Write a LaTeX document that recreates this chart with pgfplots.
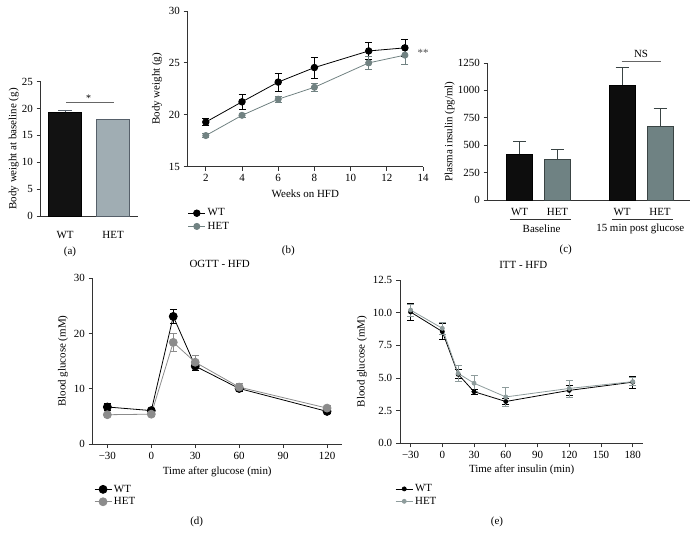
\documentclass[border=0pt]{standalone}
\usepackage{fontspec}
\setmainfont{Liberation Serif}
\usepackage{pgfplots}
\pgfplotsset{compat=1.18}
\definecolor{hetA}{HTML}{A0ADB3}
\definecolor{hetAd}{HTML}{56606A}
\definecolor{hetC}{HTML}{6F8283}
\definecolor{hetCd}{HTML}{3A4444}
\definecolor{hetB}{HTML}{718282}
\definecolor{hetD}{HTML}{8C8C8C}
\definecolor{hetE}{HTML}{8E9C9C}
\definecolor{axc}{HTML}{333333}
\newcommand{\fs}{\fontsize{11}{13}\selectfont}
\pgfplotsset{
  myaxis/.style={
    scale only axis,
    anchor=south west,
    axis x line*=bottom, axis y line*=left,
    axis line style={-, line width=0.8pt, color=axc},
    tick align=outside,
    major tick length=4bp,
    tick style={line width=0.8pt, color=axc},
    tick label style={font=\fs},
    label style={font=\fs},
    title style={font=\fs},
    /pgf/number format/assume math mode=true,
    /pgf/number format/1000 sep={},
    clip=false,
    legend cell align=left,
  },
  ebar/.style={error bars/.cd, y dir=both, y explicit,
    error bar style={line width=0.8pt},
    error mark options={rotate=90, mark size=3.5bp, line width=0.8pt}},
}
\begin{document}
\begin{tikzpicture}
\path[use as bounding box] (0,0) rectangle (700bp,545bp);
\fs
% (a)
\begin{axis}[myaxis, at={(40.7bp,329bp)}, width=97.3bp, height=134.3bp,
  xmin=-0.51, xmax=1.52, ymin=0, ymax=25, ytick={0,5,...,25},
  xtick={0,1}, xticklabels={WT,HET}, xtick style={draw=none},
  xticklabel style={yshift=-7bp},
  ylabel={Body weight at baseline (g)},
  ylabel style={at={(axis description cs:-0.277,0.5)},anchor=center}]
\addplot[ybar, bar shift=0pt, bar width=33bp, fill=black!93, draw=black, line width=0.8pt,
  error bars/.cd, y dir=plus, y explicit, error bar style={line width=0.8pt, color=hetAd},
  error mark options={rotate=90, mark size=7bp, line width=0.8pt, color=hetAd}]
  coordinates {(0,19.3) +- (0,0.3)};
\addplot[ybar, bar shift=0pt, bar width=33bp, fill=hetA, draw=hetAd, line width=0.8pt,
  error bars/.cd, y dir=plus, y explicit, error bar style={line width=0.8pt, color=hetAd},
  error mark options={rotate=90, mark size=7bp, line width=0.8pt, color=hetAd}]
  coordinates {(1,17.9) +- (0,0.15)};
\draw[line width=1bp, color=black!60] (axis cs:0.02,21.1) -- (axis cs:1.02,21.1);
\node[font=\fontsize{10}{11}\selectfont] at (axis cs:0.49,22.0) {*};
\end{axis}
% (b)
\begin{axis}[myaxis, at={(187.7bp,378.3bp)}, width=235.3bp, height=155.7bp,
  xmin=1, xmax=14, ymin=15, ymax=30, xtick={2,4,...,14}, ytick={15,20,25,30},
  xlabel={Weeks on HFD},
  xlabel style={at={(axis description cs:0.5,0)}, anchor=center, yshift=-27bp},
  ylabel={Body weight (g)},
  ylabel style={at={(axis description cs:-0.130,0.5)},anchor=center},
  legend style={at={(axis description cs:0,-0.255)}, anchor=north west, draw=none, fill=none,
    font=\fs, inner sep=0pt, row sep=0bp, nodes={inner ysep=2.2bp}}]
\addplot[black, line width=0.8pt, mark=*, mark size=3.3bp, mark options={fill=black}, ebar]
  coordinates {(2,19.3) +- (0,0.35) (4,21.25) +- (0,0.7) (6,23.15) +- (0,0.85) (8,24.55) +- (0,1.0) (11,26.15) +- (0,0.8) (13,26.45) +- (0,0.85)};
\addplot[hetB, line width=0.8pt, mark=*, mark size=3.1bp, mark options={fill=hetB}, ebar]
  coordinates {(2,18.0) +- (0,0.2) (4,19.95) +- (0,0.2) (6,21.5) +- (0,0.3) (8,22.65) +- (0,0.35) (11,25.0) +- (0,0.6) (13,25.75) +- (0,0.85)};
\legend{WT,HET}
\node[color=black!70] at (axis cs:14.0,25.95) {**};
\end{axis}
% (c)
\begin{axis}[myaxis, at={(487.7bp,345bp)}, width=202.3bp, height=137bp,
  xmin=-0.84, xmax=4.49, ymin=0, ymax=1250, ytick={0,250,...,1250},
  xtick={0,1,2.7,3.7}, xticklabels={WT,HET,WT,HET}, xtick style={draw=none},
  ylabel={Plasma insulin (pg/ml)},
  ylabel style={at={(axis description cs:-0.188,0.5)},anchor=center}]
\addplot[ybar, bar shift=0pt, bar width=26bp, fill=black!95, draw=black, line width=0.8pt,
  error bars/.cd, y dir=plus, y explicit, error bar style={line width=0.8pt, color=hetCd},
  error mark options={rotate=90, mark size=6.5bp, line width=0.8pt, color=hetCd}]
  coordinates {(0,417) +- (0,121) (2.7,1049) +- (0,162)};
\addplot[ybar, bar shift=0pt, bar width=26bp, fill=hetC, draw=hetCd, line width=0.8pt,
  error bars/.cd, y dir=plus, y explicit, error bar style={line width=0.8pt, color=hetCd},
  error mark options={rotate=90, mark size=6.5bp, line width=0.8pt, color=hetCd}]
  coordinates {(1,374) +- (0,88) (3.7,669) +- (0,167)};
\draw[line width=0.8pt, color=axc] (axis cs:-0.256,-173) -- (axis cs:1.354,-173);
\draw[line width=0.8pt, color=axc] (axis cs:2.43,-173) -- (axis cs:4.04,-173);
\node at (axis cs:0.58,-262) {Baseline};
\node at (axis cs:3.18,-262) {15 min post glucose};
\draw[line width=1bp, color=black!60] (axis cs:2.69,1268) -- (axis cs:3.73,1268);
\node at (axis cs:3.2,1335) {NS};
\end{axis}
% (d)
\begin{axis}[myaxis, at={(92.7bp,101bp)}, width=249bp, height=165.7bp,
  xmin=-40, xmax=130, ymin=0, ymax=30,
  xtick={-30,0,30,60,90,120}, xticklabels={−30,0,30,60,90,120}, ytick={0,10,20,30},
  title={OGTT - HFD},
  title style={at={(axis description cs:0.51,1)}, anchor=center, yshift=8bp},
  xlabel={Time after glucose (min)},
  xlabel style={at={(axis description cs:0.5,0)}, anchor=center, yshift=-27.7bp},
  ylabel={Blood glucose (mM)},
  ylabel style={at={(axis description cs:-0.119,0.5)},anchor=center},
  legend style={at={(axis description cs:0.005,-0.235)}, anchor=north west, draw=none, fill=none,
    font=\fs, inner sep=0pt, row sep=0bp, nodes={inner ysep=1.8bp}}]
\addplot[black, line width=0.8pt, mark=*, mark size=4bp, mark options={fill=black}, ebar]
  coordinates {(-30,6.7) +- (0,0.7) (0,6.05) +- (0,0.4) (15,23.1) +- (0,1.2) (30,14.1) +- (0,0.8) (60,10.05) +- (0,0.5) (120,5.9) +- (0,0.4)};
\addplot[hetD, line width=0.8pt, mark=*, mark size=4bp, mark options={fill=hetD}, ebar]
  coordinates {(-30,5.3) +- (0,0.3) (0,5.4) +- (0,0.4) (15,18.4) +- (0,1.6) (30,14.8) +- (0,1.2) (60,10.3) +- (0,0.6) (120,6.5) +- (0,0.5)};
\legend{WT,HET}
\end{axis}
% (e)
\begin{axis}[myaxis, at={(400bp,101.7bp)}, width=243.3bp, height=163.3bp,
  xmin=-40, xmax=190, ymin=0, ymax=12.5,
  xtick={-30,0,30,60,90,120,150,180}, xticklabels={−30,0,30,60,90,120,150,180},
  ytick={0,2.5,5,7.5,10,12.5},
  yticklabel style={/pgf/number format/.cd, fixed, fixed zerofill, precision=1},
  title={ITT - HFD},
  title style={at={(axis description cs:0.507,1)}, anchor=center, yshift=9bp},
  xlabel={Time after insulin (min)},
  xlabel style={at={(axis description cs:0.5,0)}, anchor=center, yshift=-26.7bp},
  ylabel={Blood glucose (mM)},
  ylabel style={at={(axis description cs:-0.156,0.5)},anchor=center},
  legend style={at={(axis description cs:-0.02,-0.24)}, anchor=north west, draw=none, fill=none,
    font=\fs, inner sep=0pt, row sep=0bp, nodes={inner ysep=1.8bp}}]
\addplot[black, line width=0.8pt, mark=*, mark size=2bp, mark options={fill=black}, ebar]
  coordinates {(-30,10.05) +- (0,0.65) (0,8.55) +- (0,0.6) (15,5.28) +- (0,0.35) (30,3.95) +- (0,0.2) (60,3.2) +- (0,0.25) (120,4.05) +- (0,0.4) (180,4.68) +- (0,0.45)};
\addplot[hetE, line width=0.8pt, mark=*, mark size=2bp, mark options={fill=hetE}, ebar]
  coordinates {(-30,10.2) +- (0,0.45) (0,8.8) +- (0,0.45) (15,5.35) +- (0,0.6) (30,4.6) +- (0,0.6) (60,3.55) +- (0,0.75) (120,4.2) +- (0,0.65) (180,4.72) +- (0,0.3)};
\legend{WT,HET}
\end{axis}
% panel labels
\node at (70bp,293bp) {(a)};
\node at (288.3bp,294.3bp) {(b)};
\node at (565.7bp,295bp) {(c)};
\node at (196.7bp,22.7bp) {(d)};
\node at (497bp,22.7bp) {(e)};
\end{tikzpicture}
\end{document}
